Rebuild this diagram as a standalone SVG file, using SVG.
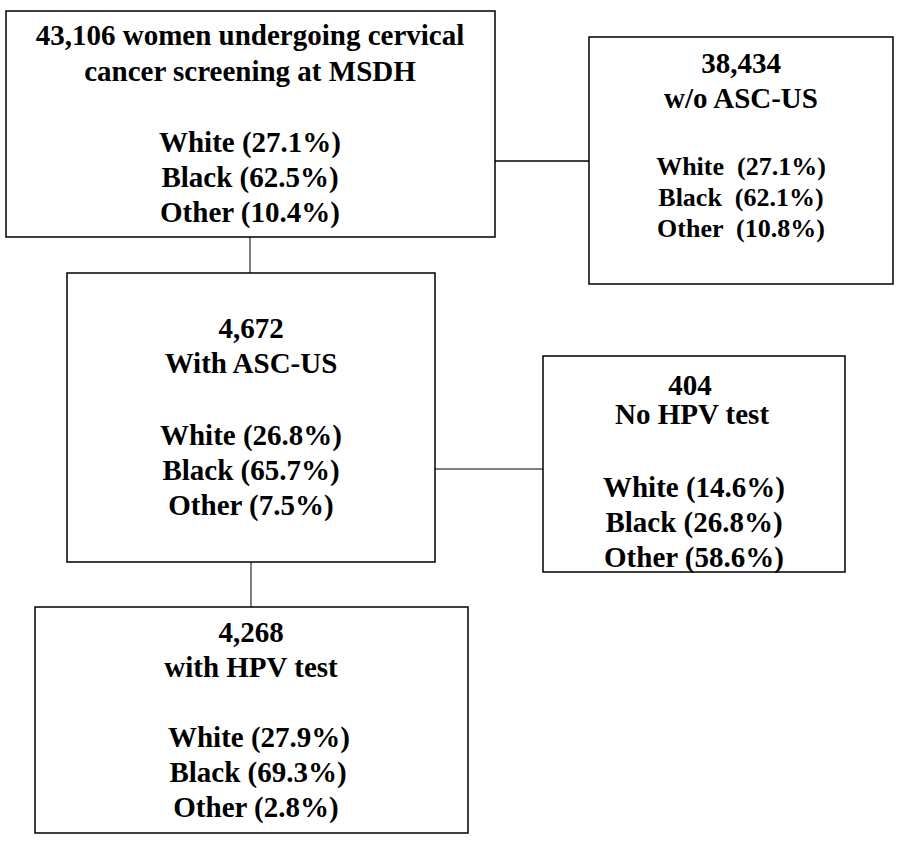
<svg xmlns="http://www.w3.org/2000/svg" width="900" height="846" viewBox="0 0 900 846">
<style>
rect.box{fill:#fff;stroke:#000;stroke-width:1.5}
text{font-family:"Liberation Serif","Times New Roman",serif;font-weight:bold;font-size:29px;fill:#000;text-anchor:middle}
.s{font-size:26px}
line.c{stroke:#555;stroke-width:1.5}
line.k{stroke:#000;stroke-width:1.5}
</style>
<rect width="900" height="846" fill="#fff"/>
<g id="connectors">
<line class="k" x1="495" y1="161" x2="589" y2="161"/>
<line class="c" x1="250" y1="237" x2="250" y2="273"/>
<line class="c" x1="435" y1="469" x2="543" y2="469"/>
<line class="c" x1="251" y1="562" x2="251" y2="607"/>
</g>
<g id="screened">
<rect class="box" x="6" y="11" width="489" height="226"/>
<text x="250" y="45">43,106 women undergoing cervical</text>
<text x="250" y="81">cancer screening at MSDH</text>
<text x="250" y="152">White (27.1%)</text>
<text x="250" y="187">Black (62.5%)</text>
<text x="250" y="222">Other (10.4%)</text>
</g>
<g id="without-ascus">
<rect class="box" x="589" y="37" width="304" height="247"/>
<text x="741" y="73">38,434</text>
<text x="741" y="108">w/o ASC-US</text>
<text class="s" x="741" y="175" xml:space="preserve">White  (27.1%)</text>
<text class="s" x="741" y="206" xml:space="preserve">Black  (62.1%)</text>
<text class="s" x="741" y="237" xml:space="preserve">Other  (10.8%)</text>
</g>
<g id="with-ascus">
<rect class="box" x="67" y="273" width="368" height="289"/>
<text x="251" y="338">4,672</text>
<text x="251" y="373">With ASC-US</text>
<text x="251" y="445">White (26.8%)</text>
<text x="251" y="480">Black (65.7%)</text>
<text x="251" y="515">Other (7.5%)</text>
</g>
<g id="no-hpv">
<rect class="box" x="543" y="356" width="302" height="216"/>
<text x="690" y="395">404</text>
<text x="692" y="424">No HPV test</text>
<text x="694" y="497">White (14.6%)</text>
<text x="694" y="532">Black (26.8%)</text>
<text x="694" y="567">Other (58.6%)</text>
</g>
<g id="with-hpv">
<rect class="box" x="35" y="607" width="433" height="226"/>
<text x="251" y="642">4,268</text>
<text x="251" y="677">with HPV test</text>
<text x="259" y="747">White (27.9%)</text>
<text x="258" y="782">Black (69.3%)</text>
<text x="256" y="817">Other (2.8%)</text>
</g>
</svg>
